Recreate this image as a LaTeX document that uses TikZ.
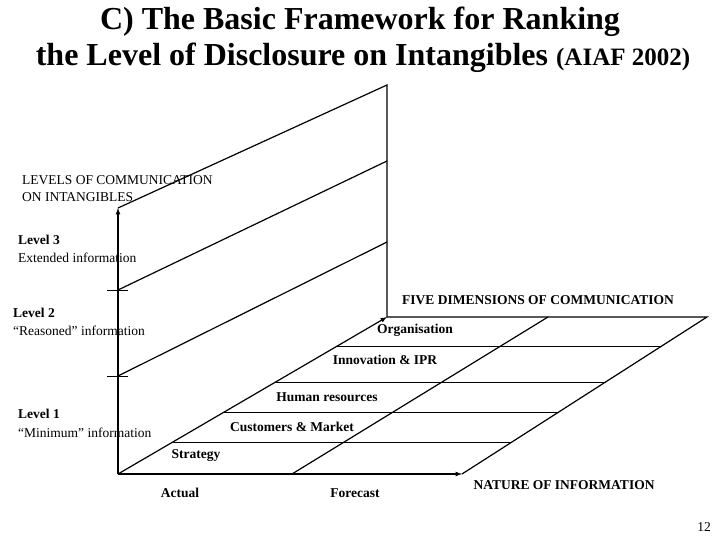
\documentclass[tikz,border=0pt]{standalone}
\usepackage{fontspec}
\setmainfont{Liberation Serif}
\begin{document}
\begin{tikzpicture}[x=1pt,y=-1pt,
  ln/.style={line width=1.2pt},
  lbl/.style={font=\fontsize{13.5}{15}\selectfont,inner sep=0pt},
  blbl/.style={font=\fontsize{13.5}{15}\selectfont\bfseries,inner sep=0pt},
  ttl/.style={font=\fontsize{32}{34}\selectfont\bfseries,inner sep=0pt},
  >=latex]
\useasboundingbox (0,0) rectangle (720,540);
\coordinate (O) at (118,474);
\coordinate (V) at (118,208);
\coordinate (D) at (387,317);
\coordinate (H) at (462,474);
\coordinate (R) at (707,317);
\coordinate (T3) at (387,85);
\coordinate (T2) at (387,161);
\coordinate (T1) at (387,242);
\coordinate (L2) at (118,290);
\coordinate (L1) at (118,376);
\coordinate (MB) at (292,474);
\coordinate (MT) at (548,317);
\draw[ln,->] (O) -- (V);
\draw[ln,->] (O) -- (H);
\draw[ln,->] (O) -- (D);
\draw[ln] (V) -- (T3) -- (D);
\draw[ln] (L2) -- (T2);
\draw[ln] (L1) -- (T1);
\draw[line width=0.8pt] (107,290) -- (128,290);
\draw[line width=0.8pt] (107,376) -- (128,376);
\draw[ln] (D) -- (R) -- (H);
\draw[ln] (MB) -- (MT);
\foreach \y in {346,382,412,442}{
  \pgfmathsetmacro{\xl}{118+(474-\y)/157*269}
  \pgfmathsetmacro{\xr}{462+(474-\y)/157*245}
  \draw[line width=0.8pt] (\xl,\y) -- (\xr,\y);
}
\node[ttl] (t1) at (360,22) {C) The Basic Framework for Ranking};
\node[ttl] (t2) at (363,58) {the Level of Disclosure on Intangibles {\fontsize{25}{28}\selectfont(AIAF 2002)}};
\node[lbl,anchor=west] (a1) at (22,180) {LEVELS OF COMMUNICATION};
\node[lbl,anchor=west] (a2) at (22,197) {ON INTANGIBLES};
\node[blbl,anchor=west] (l3) at (18,240) {Level 3};
\node[lbl,anchor=west] (l3b) at (18,258) {Extended information};
\node[blbl,anchor=west] (l2) at (13,313) {Level 2};
\node[lbl,anchor=west] (l2b) at (13,331) {“Reasoned” information};
\node[blbl,anchor=west] (l1) at (18,414) {Level 1};
\node[lbl,anchor=west] (l1b) at (18,433) {“Minimum” information};
\node[blbl] (fd) at (538,300) {FIVE DIMENSIONS OF COMMUNICATION};
\node[blbl] (org) at (415,330) {Organisation};
\node[blbl] (inn) at (385,360) {Innovation \& IPR};
\node[blbl] (hr) at (327,397) {Human resources};
\node[blbl] (cm) at (292,427) {Customers \& Market};
\node[blbl] (st) at (196,456) {Strategy};
\node[blbl] (ac) at (180,493) {Actual};
\node[blbl] (fc) at (355,493) {Forecast};
\node[blbl] (ni) at (564,485) {NATURE OF INFORMATION};
\node[lbl] (pg) at (704,527) {12};
\end{tikzpicture}
\end{document}
